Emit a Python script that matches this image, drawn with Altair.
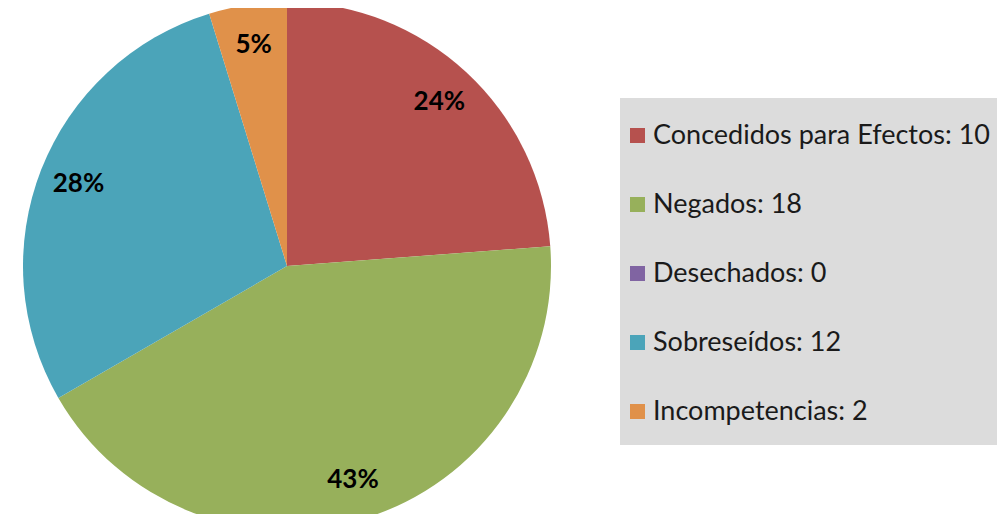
import altair as alt
import pandas as pd

names = ["Concedidos para Efectos", "Negados", "Desechados", "Sobreseídos", "Incompetencias"]
values = [10, 18, 0, 12, 2]
pct_labels = ["24%", "43%", "0%", "28%", "5%"]
colors = ["#B6514E", "#97B05B", "#8064A2", "#4BA4B9", "#E0914A"]

legend_labels = [f"{n}: {v}" for n, v in zip(names, values)]
df = pd.DataFrame({
    "name": names,
    "value": values,
    "pct": pct_labels,
    "legend": legend_labels,
    "order": list(range(len(names))),
})

CX, CY = 279, 258

bg = alt.Chart(df).mark_rect(color="#DCDCDC").encode(
    x=alt.value(612), x2=alt.value(1000), y=alt.value(90), y2=alt.value(437)
).transform_filter("datum.order == 0")

base = alt.Chart(df).encode(
    theta=alt.Theta("value:Q", stack=True),
    order=alt.Order("order:Q"),
)

pie = base.mark_arc(outerRadius=264).encode(
    color=alt.Color(
        "legend:N",
        scale=alt.Scale(domain=legend_labels, range=colors),
        legend=alt.Legend(
            title=None,
            orient="none",
            legendX=616,
            legendY=114,
            symbolType="square",
            symbolSize=225,
            symbolStrokeWidth=0,
            labelFont="Lato",
            labelFontSize=27,
            labelColor="#1a1a1a",
            labelOffset=2,
            labelLimit=1000,
            rowPadding=41,
            padding=0,
        ),
    ),
    x=alt.value(CX),
    y=alt.value(CY),
)

text = base.transform_filter("datum.value > 0").mark_text(
    radius=224, font="Lato", fontSize=26, fontWeight="bold", color="black"
).encode(
    text="pct:N",
    x=alt.value(CX),
    y=alt.value(CY),
)

chart = alt.layer(bg, pie, text).properties(
    width=989, height=506, padding=0, autosize=alt.AutoSizeParams(type="none")
).configure_view(stroke=None)

chart.save("out.html", embed_options={"renderer": "svg", "actions": False})
